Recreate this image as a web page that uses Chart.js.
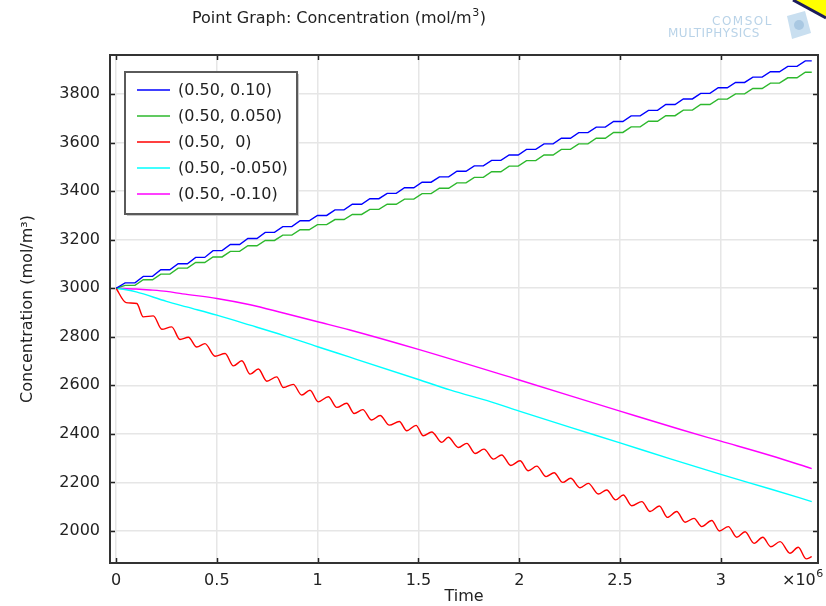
<!DOCTYPE html>
<html><head><meta charset="utf-8">
<script src="https://cdn.jsdelivr.net/npm/chart.js@4/dist/chart.umd.min.js"></script>
<style>html,body{margin:0;padding:0;background:#fff;}#wrap{width:826px;height:606px;}</style>
</head><body><div id="wrap"><canvas id="c" width="826" height="606"></canvas></div>
<script>
// ---- data (time in units of 10^6 s, concentration in mol/m^3) ----
const seriesLabels = ['(0.50, 0.10)', '(0.50, 0.050)', '(0.50,  0)', '(0.50, -0.050)', '(0.50, -0.10)'];
const seriesColors = ['#0000ff', '#2db82d', '#ff0000', '#00ffff', '#ff00ff'];
const xTicks = [0, 0.5, 1, 1.5, 2, 2.5, 3];
const yTicks = [2000, 2200, 2400, 2600, 2800, 3000, 3200, 3400, 3600, 3800];

const stepTime = [0, 0.045, 0.094, 0.135, 0.181, 0.222, 0.267, 0.308, 0.354, 0.395, 0.440, 0.481, 0.526, 0.567, 0.613, 0.654, 0.699, 0.740, 0.786, 0.827, 0.872, 0.913, 0.958, 0.999, 1.045, 1.086, 1.131, 1.172, 1.218, 1.259, 1.304, 1.345, 1.390, 1.431, 1.477, 1.518, 1.563, 1.604, 1.650, 1.691, 1.736, 1.777, 1.822, 1.863, 1.909, 1.950, 1.995, 2.036, 2.082, 2.123, 2.168, 2.209, 2.254, 2.295, 2.341, 2.382, 2.427, 2.468, 2.514, 2.555, 2.600, 2.641, 2.686, 2.727, 2.773, 2.814, 2.859, 2.900, 2.946, 2.987, 3.032, 3.073, 3.118, 3.159, 3.205, 3.246, 3.291, 3.332, 3.378, 3.419, 3.451];
const blueConc = [3000, 3022, 3022, 3049, 3049, 3076, 3076, 3101, 3101, 3127, 3127, 3155, 3155, 3180, 3180, 3205, 3205, 3230, 3230, 3254, 3254, 3278, 3278, 3300, 3300, 3323, 3323, 3346, 3346, 3369, 3369, 3391, 3391, 3414, 3414, 3437, 3437, 3459, 3459, 3482, 3482, 3504, 3504, 3527, 3527, 3549, 3549, 3572, 3572, 3595, 3595, 3618, 3618, 3641, 3641, 3664, 3664, 3687, 3687, 3710, 3710, 3733, 3733, 3757, 3757, 3780, 3780, 3803, 3803, 3826, 3826, 3848, 3848, 3870, 3870, 3892, 3892, 3914, 3914, 3937, 3937];
const greenConc = [3000, 3012, 3012, 3035, 3035, 3058, 3058, 3083, 3083, 3106, 3106, 3129, 3129, 3152, 3152, 3175, 3175, 3197, 3197, 3219, 3219, 3241, 3241, 3262, 3262, 3283, 3283, 3304, 3304, 3325, 3325, 3346, 3346, 3367, 3367, 3390, 3390, 3412, 3412, 3434, 3434, 3457, 3457, 3480, 3480, 3503, 3503, 3526, 3526, 3549, 3549, 3572, 3572, 3595, 3595, 3618, 3618, 3642, 3642, 3665, 3665, 3688, 3688, 3711, 3711, 3734, 3734, 3757, 3757, 3779, 3779, 3801, 3801, 3823, 3823, 3845, 3845, 3867, 3867, 3890, 3890];

const redTime = [0, 0.050, 0.103, 0.135, 0.185, 0.227, 0.276, 0.317, 0.359, 0.400, 0.441, 0.491, 0.541, 0.582, 0.624, 0.665, 0.706, 0.748, 0.797, 0.830, 0.879, 0.921, 0.962, 1.003, 1.053, 1.095, 1.144, 1.181, 1.224, 1.268, 1.310, 1.356, 1.405, 1.442, 1.488, 1.524, 1.566, 1.616, 1.648, 1.698, 1.740, 1.781, 1.825, 1.872, 1.913, 1.958, 2.004, 2.045, 2.087, 2.133, 2.173, 2.216, 2.255, 2.302, 2.343, 2.392, 2.434, 2.478, 2.516, 2.558, 2.608, 2.649, 2.695, 2.735, 2.781, 2.823, 2.867, 2.905, 2.955, 2.993, 3.037, 3.079, 3.120, 3.165, 3.208, 3.248, 3.294, 3.343, 3.384, 3.423, 3.451];
const redConc = [3000, 2941, 2937, 2882, 2886, 2831, 2841, 2789, 2798, 2758, 2772, 2720, 2731, 2680, 2701, 2646, 2667, 2617, 2635, 2591, 2604, 2560, 2580, 2532, 2553, 2509, 2526, 2484, 2500, 2457, 2476, 2436, 2451, 2413, 2435, 2392, 2408, 2365, 2386, 2344, 2361, 2319, 2337, 2296, 2313, 2270, 2289, 2248, 2267, 2224, 2240, 2200, 2217, 2178, 2196, 2152, 2169, 2128, 2148, 2104, 2121, 2080, 2103, 2056, 2080, 2036, 2052, 2018, 2043, 2000, 2018, 1974, 1997, 1949, 1974, 1935, 1956, 1908, 1933, 1885, 1894];

const cyanTime = [0, 0.05, 0.10, 0.25, 0.35, 0.50, 0.665, 0.83, 1.00, 1.16, 1.50, 1.66, 1.86, 2.00, 2.25, 2.50, 2.75, 3.00, 3.25, 3.451];
const cyanConc = [3000, 2994, 2985, 2946, 2923, 2889, 2848, 2806, 2759, 2716, 2624, 2580, 2532, 2494, 2428, 2363, 2297, 2233, 2172, 2121];

const magTime = [0, 0.10, 0.17, 0.25, 0.33, 0.50, 0.665, 0.83, 1.00, 1.16, 1.50, 2.00, 2.50, 2.80, 3.00, 3.25, 3.451];
const magConc = [3000, 2997, 2993, 2987, 2977, 2958, 2932, 2898, 2862, 2828, 2748, 2622, 2494, 2418, 2370, 2310, 2257];

const seriesTimes = [stepTime, stepTime, redTime, cyanTime, magTime];
const seriesConcs = [blueConc, greenConc, redConc, cyanConc, magConc];

const FONT = '"DejaVu Sans", Verdana, sans-serif';
const TXT = '#222';

const datasets = seriesLabels.map((lab, k) => ({
  label: lab,
  data: seriesTimes[k].map((t, i) => ({x: t, y: seriesConcs[k][i]})),
  borderColor: seriesColors[k],
  backgroundColor: seriesColors[k],
  borderWidth: 1.4,
  pointRadius: 0,
  fill: false,
  tension: 0,
  cubicInterpolationMode: k >= 2 ? 'monotone' : 'default'
}));

const decor = {
  id: 'decor',
  beforeDraw(chart) {
    const ctx = chart.ctx;
    ctx.save();
    ctx.fillStyle = '#fff';
    ctx.fillRect(0, 0, chart.width, chart.height);
    ctx.restore();
  },
  afterDatasetsDraw(chart) {
    const ctx = chart.ctx, a = chart.chartArea;
    const xs = chart.scales.x, ys = chart.scales.y;
    ctx.save();
    ctx.strokeStyle = '#222';
    ctx.lineWidth = 1.5;
    ctx.beginPath();
    xTicks.forEach(v => {
      const p = Math.round(xs.getPixelForValue(v)) + 0.5;
      ctx.moveTo(p, a.bottom); ctx.lineTo(p, a.bottom - 5);
      ctx.moveTo(p, a.top); ctx.lineTo(p, a.top + 5);
    });
    yTicks.forEach(v => {
      const p = Math.round(ys.getPixelForValue(v)) + 0.5;
      ctx.moveTo(a.left, p); ctx.lineTo(a.left + 5, p);
      ctx.moveTo(a.right, p); ctx.lineTo(a.right - 5, p);
    });
    ctx.stroke();
    ctx.lineWidth = 2;
    ctx.strokeStyle = '#333';
    ctx.strokeRect(a.left, a.top, a.right - a.left, a.bottom - a.top);
    ctx.restore();
  },
  afterDraw(chart) {
    const ctx = chart.ctx;
    ctx.save();
    // title
    ctx.fillStyle = TXT;
    ctx.textBaseline = 'alphabetic';
    ctx.textAlign = 'left';
    ctx.font = '16px ' + FONT;
    const t1 = 'Point Graph: Concentration (mol/m';
    ctx.fillText(t1, 192, 23);
    let w = ctx.measureText(t1).width;
    ctx.font = '11px ' + FONT;
    ctx.fillText('3', 192 + w + 0.5, 16);
    const w3 = ctx.measureText('3').width;
    ctx.font = '16px ' + FONT;
    ctx.fillText(')', 192 + w + w3 + 1, 23);
    // x10^6
    ctx.font = '16px ' + FONT;
    ctx.fillText('\u00d710', 782, 585);
    const wx = ctx.measureText('\u00d710').width;
    ctx.font = '11px ' + FONT;
    ctx.fillText('6', 782 + wx + 0.5, 577);

    // legend
    const lx = 125, ly = 72, lw = 172, lh = 142;
    ctx.fillStyle = '#c8c8c8';
    ctx.fillRect(lx + 2, ly + 2, lw, lh);
    ctx.fillStyle = '#fff';
    ctx.fillRect(lx, ly, lw, lh);
    ctx.strokeStyle = '#5a5a5a';
    ctx.lineWidth = 2;
    ctx.strokeRect(lx, ly, lw, lh);
    chart.data.datasets.forEach((d, i) => {
      const y = 90 + i * 26;
      ctx.strokeStyle = d.borderColor;
      ctx.lineWidth = 1.6;
      ctx.beginPath(); ctx.moveTo(137, y); ctx.lineTo(170, y); ctx.stroke();
      ctx.fillStyle = TXT;
      ctx.font = '16px ' + FONT;
      ctx.textBaseline = 'middle';
      ctx.fillText(d.label, 178, y + 1);
    });

    // COMSOL logo (faint)
    ctx.fillStyle = '#b9d3e8';
    ctx.textBaseline = 'alphabetic';
    ctx.font = '12px ' + FONT;
    ctx.letterSpacing = '1.5px';
    ctx.fillText('COMSOL', 712, 25);
    ctx.letterSpacing = '0.5px';
    ctx.fillText('MULTIPHYSICS', 668, 37);
    ctx.letterSpacing = '0px';
    ctx.fillStyle = '#c9dff0';
    ctx.beginPath();
    ctx.moveTo(787, 16); ctx.lineTo(805, 11); ctx.lineTo(811, 33); ctx.lineTo(792, 39); ctx.closePath();
    ctx.fill();
    ctx.fillStyle = '#a9c8e2';
    ctx.beginPath(); ctx.arc(799, 25, 5, 0, Math.PI * 2); ctx.fill();
    // yellow corner
    ctx.fillStyle = '#ffff00';
    ctx.beginPath(); ctx.moveTo(794, 0); ctx.lineTo(826, 0); ctx.lineTo(826, 17); ctx.closePath(); ctx.fill();
    ctx.strokeStyle = '#1c1c5c';
    ctx.lineWidth = 3;
    ctx.beginPath(); ctx.moveTo(793, 0); ctx.lineTo(826, 18); ctx.stroke();
    ctx.restore();
  }
};

new Chart(document.getElementById('c'), {
  type: 'line',
  data: { datasets },
  options: {
    responsive: false,
    animation: false,
    devicePixelRatio: 1,
    layout: { padding: { top: 55, right: 8, bottom: 0, left: 0 } },
    plugins: { legend: { display: false }, title: { display: false }, tooltip: { enabled: false } },
    scales: {
      x: {
        type: 'linear',
        min: -0.03, max: 3.482,
        afterBuildTicks: s => { s.ticks = xTicks.map(v => ({ value: v })); },
        afterFit: s => { s.height = 43; },
        grid: { color: '#e6e6e6', lineWidth: 1.5, drawTicks: false },
        border: { display: false },
        ticks: { color: TXT, font: { family: FONT, size: 16 }, padding: 8, maxRotation: 0, callback: v => String(v) },
        title: { display: true, text: 'Time', color: TXT, font: { family: FONT, size: 16 }, padding: { top: 0, bottom: 0 } }
      },
      y: {
        type: 'linear',
        min: 1868, max: 3961,
        afterBuildTicks: s => { s.ticks = yTicks.map(v => ({ value: v })); },
        afterFit: s => { s.width = 110; },
        grid: { color: '#e6e6e6', lineWidth: 1.5, drawTicks: false },
        border: { display: false },
        ticks: { color: TXT, font: { family: FONT, size: 16 }, padding: 10, callback: v => String(v) },
        title: { display: true, text: 'Concentration (mol/m\u00b3)', color: TXT, font: { family: FONT, size: 16 }, padding: { top: 18, bottom: 0 } }
      }
    }
  },
  plugins: [decor]
});
</script>
</body></html>
